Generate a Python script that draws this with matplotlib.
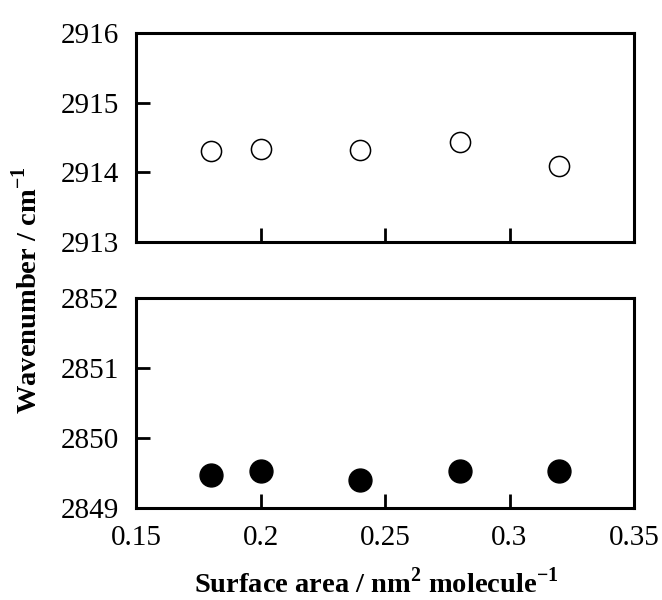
import matplotlib
matplotlib.use('Agg')
import matplotlib.pyplot as plt

# surface area (nm^2 / molecule)
area = [0.18, 0.20, 0.24, 0.28, 0.32]
# antisymmetric CH2 stretch (top) and symmetric CH2 stretch (bottom)
nu_as = [2914.30, 2914.33, 2914.32, 2914.43, 2914.09]
nu_s = [2849.47, 2849.53, 2849.40, 2849.53, 2849.53]

plt.rcParams['font.family'] = ['Liberation Serif', 'DejaVu Serif']
plt.rcParams['mathtext.fontset'] = 'custom'
plt.rcParams['mathtext.rm'] = 'Liberation Serif'
plt.rcParams['mathtext.bf'] = 'Liberation Serif:bold'

fig = plt.figure(figsize=(6.62, 6.0), dpi=100)
W, H = 662, 600
ax1 = fig.add_axes([136 / W, 1 - 242 / H, (634 - 136) / W, (242 - 33) / H])
ax2 = fig.add_axes([136 / W, 1 - 508 / H, (634 - 136) / W, (508 - 298) / H])

ax1.plot(area, nu_as, 'o', ms=14.5, mfc='white', mec='black', mew=1.1)
ax2.plot(area, nu_s, 'o', ms=16.5, mfc='black', mec='black')

ax1.set_ylim(2913, 2916)
ax1.set_yticks([2913, 2914, 2915, 2916])
ax2.set_ylim(2849, 2852)
ax2.set_yticks([2849, 2850, 2851, 2852])

for ax in (ax1, ax2):
    ax.set_xlim(0.15, 0.35)
    ax.set_xticks([0.15, 0.2, 0.25, 0.3, 0.35])
    ax.tick_params(direction='in', length=10, width=2, labelsize=21, pad=12,
                   top=False, right=False)
    for s in ax.spines.values():
        s.set_linewidth(2.2)

ax1.tick_params(labelbottom=False)
ax2.set_xticklabels(['0.15', '0.2', '0.25', '0.3', '0.35'])

fig.text(27 / W, 1 - 290 / H, r'Wavenumber / cm$^{\mathbf{-1}}$', rotation=90,
         ha='center', va='center', fontsize=20.5, fontweight='bold')
fig.text(376 / W, 1 - 583 / H, r'Surface area / nm$^{\mathbf{2}}$ molecule$^{\mathbf{-1}}$',
         ha='center', va='center', fontsize=20.5, fontweight='bold')

fig.savefig('out.png', dpi=100)
